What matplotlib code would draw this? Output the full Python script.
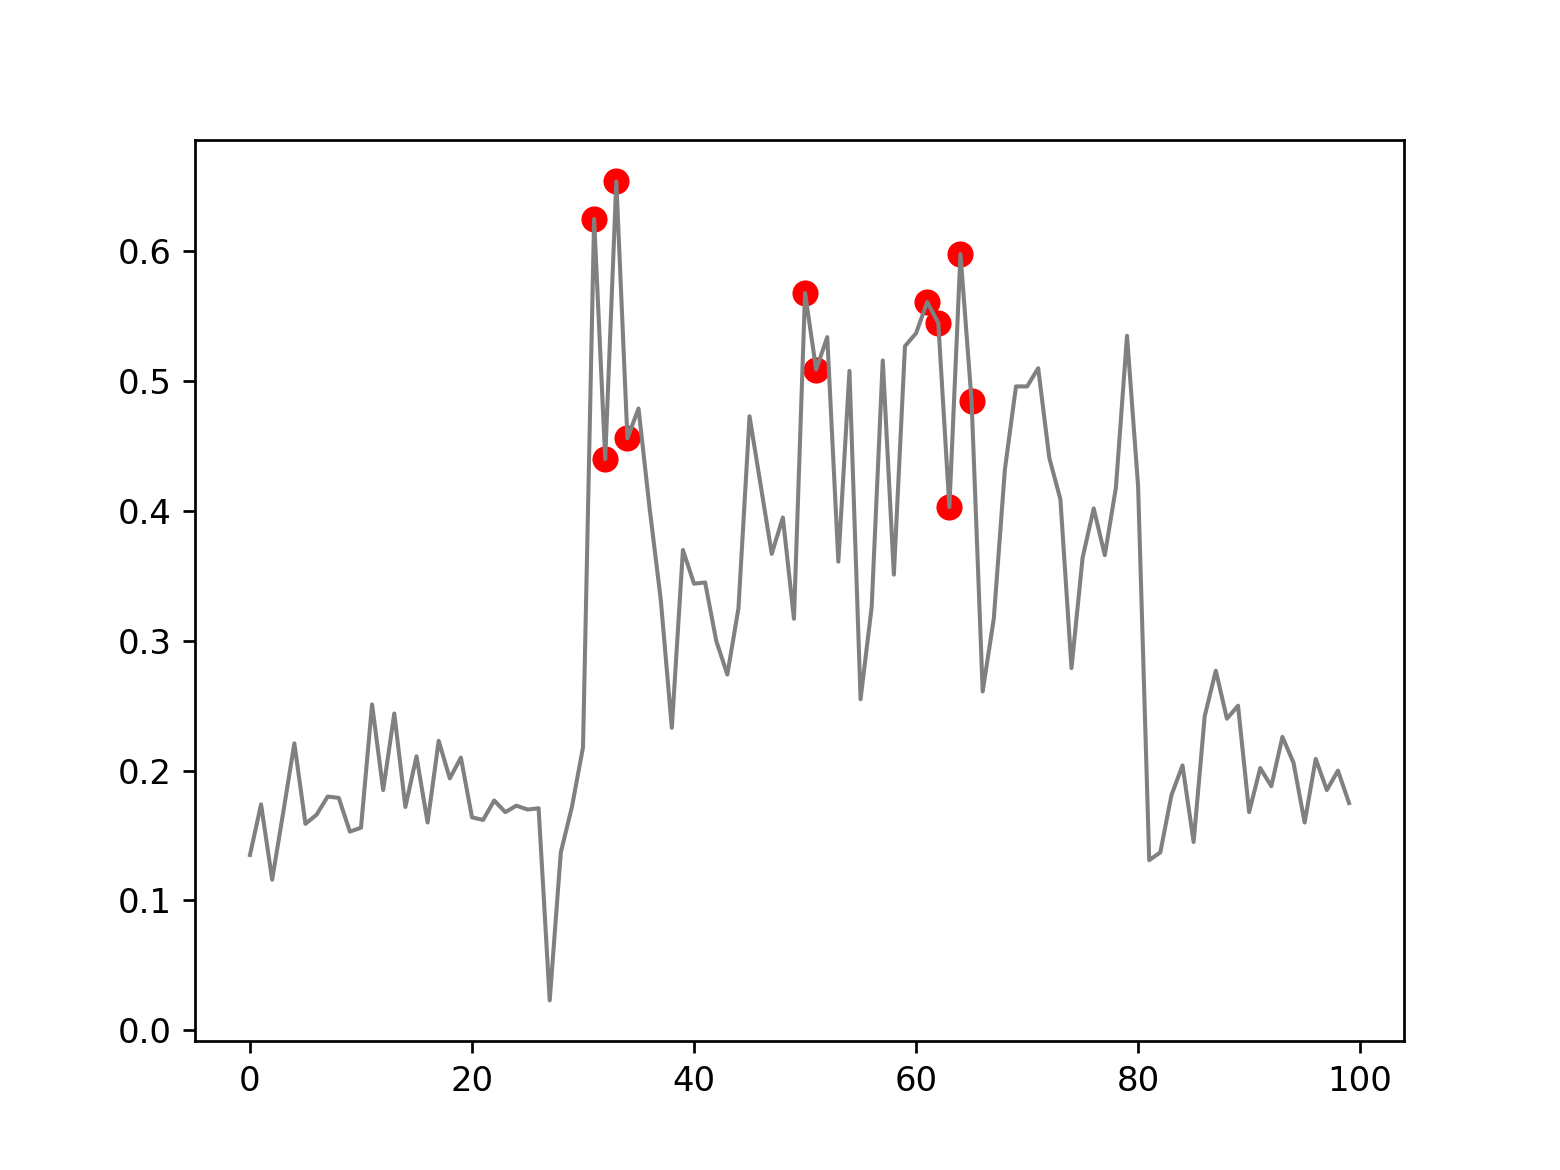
import matplotlib
matplotlib.use("Agg")
import matplotlib.pyplot as plt
import numpy as np

# series values, index 0..99
signal = [0.135, 0.174, 0.116, 0.168, 0.221, 0.159, 0.166, 0.180, 0.179, 0.153,
          0.156, 0.251, 0.185, 0.244, 0.172, 0.211, 0.160, 0.223, 0.194, 0.210,
          0.164, 0.162, 0.177, 0.168, 0.173, 0.170, 0.171, 0.023, 0.137, 0.172,
          0.218, 0.625, 0.440, 0.654, 0.456, 0.479, 0.402, 0.332, 0.233, 0.370,
          0.344, 0.345, 0.300, 0.274, 0.325, 0.473, 0.420, 0.367, 0.395, 0.317,
          0.568, 0.509, 0.534, 0.361, 0.508, 0.255, 0.326, 0.516, 0.351, 0.527,
          0.537, 0.561, 0.545, 0.403, 0.598, 0.485, 0.261, 0.317, 0.432, 0.496,
          0.496, 0.510, 0.441, 0.409, 0.279, 0.364, 0.402, 0.366, 0.418, 0.535,
          0.419, 0.131, 0.137, 0.181, 0.204, 0.145, 0.242, 0.277, 0.240, 0.250,
          0.168, 0.202, 0.188, 0.226, 0.206, 0.160, 0.209, 0.185, 0.200, 0.175]

# highlighted points (anomalies)
flagged = [31, 32, 33, 34, 50, 51, 61, 62, 63, 64, 65]

x = np.arange(len(signal))
y = np.array(signal)

fig = plt.figure(figsize=(6.4, 4.8), dpi=243.75)
plt.scatter(x[flagged], y[flagged], color="red", s=45)
plt.plot(x, y, color="gray", linewidth=1.2)
plt.savefig("out.png")
